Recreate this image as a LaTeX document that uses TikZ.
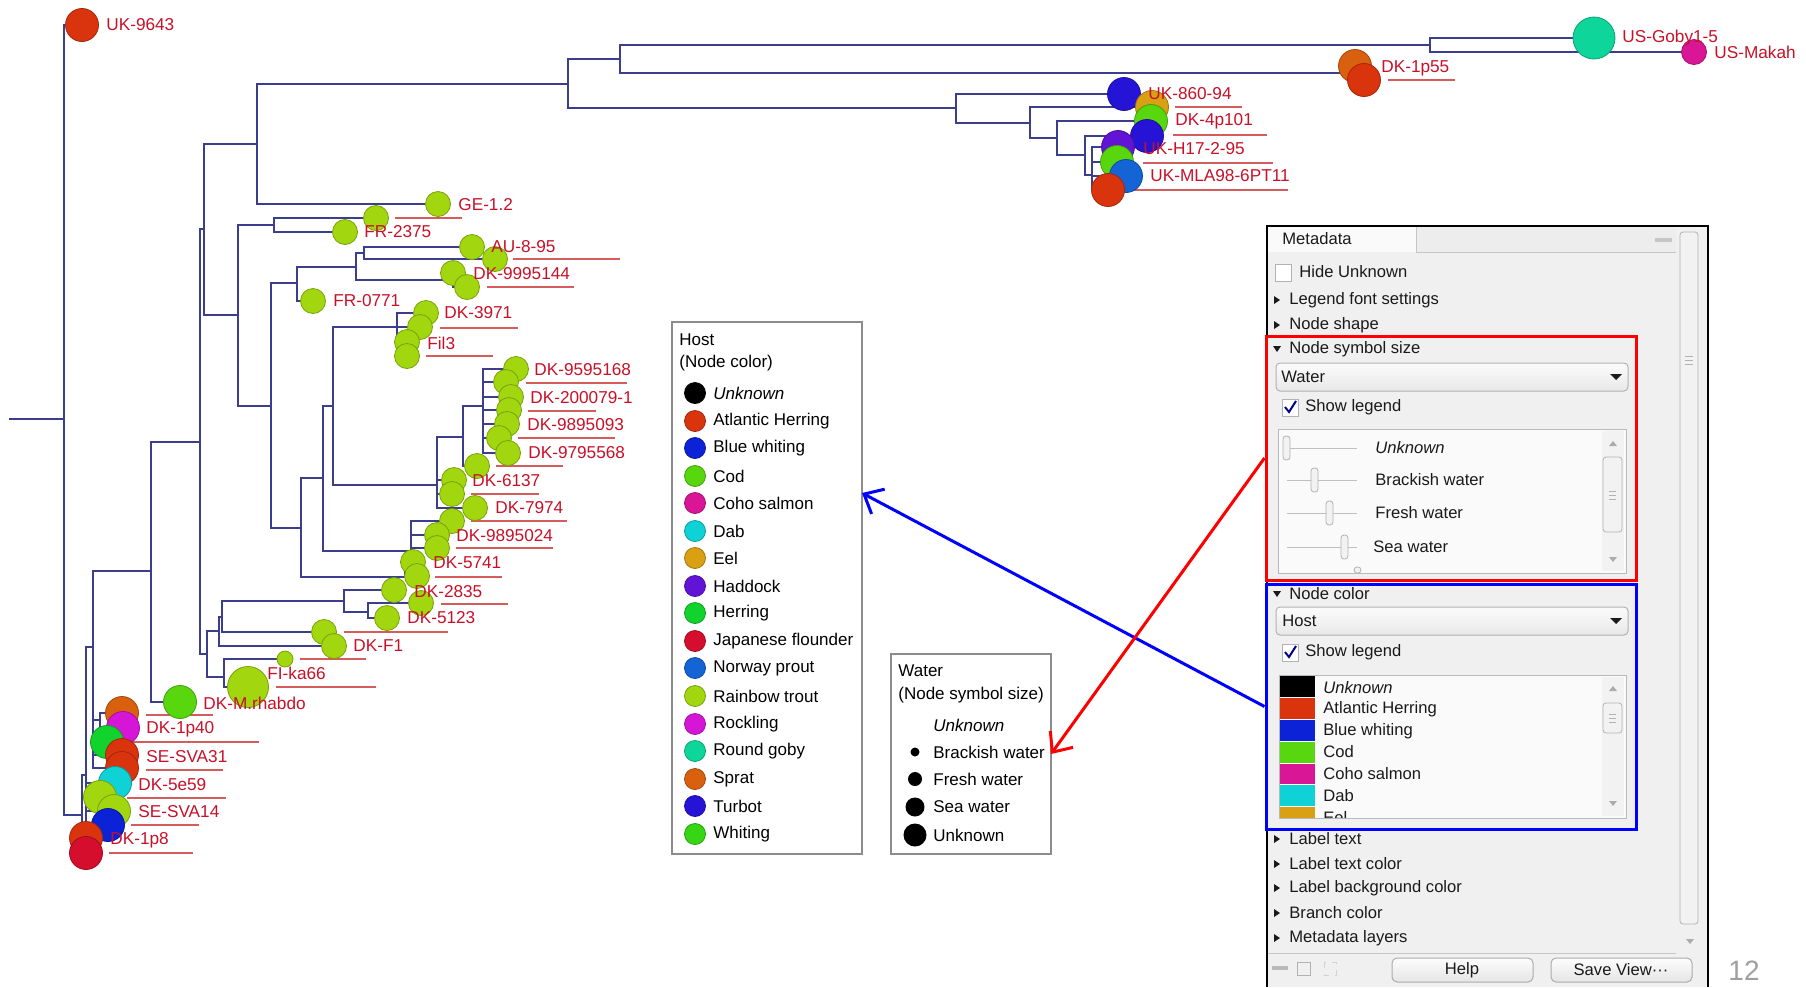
\documentclass[tikz,border=0pt]{standalone}
\usepackage{fontspec}
\setmainfont{Liberation Sans}
\usepackage{tikz}
\usetikzlibrary{calc}
\usetikzlibrary{shapes}
\usetikzlibrary{arrows.meta}

\definecolor{branch}{RGB}{58,62,140}
\definecolor{labred}{RGB}{200,16,40}
\definecolor{ulred}{RGB}{214,92,92}
\definecolor{cUnknown}{RGB}{0,0,0}
\definecolor{cAtlHer}{RGB}{217,52,14}
\definecolor{cBlueWh}{RGB}{12,34,214}
\definecolor{cCod}{RGB}{88,214,14}
\definecolor{cCoho}{RGB}{216,22,150}
\definecolor{cDab}{RGB}{14,210,214}
\definecolor{cEel}{RGB}{216,160,18}
\definecolor{cHaddock}{RGB}{98,20,214}
\definecolor{cHerring}{RGB}{18,210,46}
\definecolor{cJapFl}{RGB}{214,14,46}
\definecolor{cNorway}{RGB}{20,100,214}
\definecolor{cTrout}{RGB}{162,214,14}
\definecolor{cRockling}{RGB}{214,22,214}
\definecolor{cGoby}{RGB}{14,214,154}
\definecolor{cSprat}{RGB}{216,96,14}
\definecolor{cTurbot}{RGB}{38,20,214}
\definecolor{cWhiting}{RGB}{54,214,20}
\definecolor{panelgray}{RGB}{240,240,240}
\definecolor{paneltxt}{RGB}{26,26,26}

\tikzset{
  br/.style={draw=branch,line width=0.8pt},
  leaf/.style={circle,inner sep=0pt,line width=0.4pt},
  host/.style={leaf,fill=#1,draw=#1!75!black},
  fresh/.style={minimum size=12.5pt},
  sea/.style={minimum size=16.5pt},
  brackish/.style={minimum size=8pt},
  unkwater/.style={minimum size=20.5pt},
  tiplabel/.style={anchor=west,inner sep=0pt,text=labred,font=\fontsize{8.6}{10}\selectfont},
  uline/.style={draw=ulred,line width=1pt},
  legbox/.style={draw=gray!90,line width=1pt,inner sep=0pt},
  legtext/.style={anchor=west,inner sep=0pt,font=\fontsize{8.5}{10}\selectfont},
  legdot/.style={circle,inner sep=0pt,fill=#1,draw=#1!75!black,line width=0.4pt,minimum size=10.5pt},
  sizedot/.style={circle,inner sep=0pt,fill=black,minimum size=#1},
  paneltext/.style={anchor=west,inner sep=0pt,text=paneltxt,font=\fontsize{8.3}{10}\selectfont},
  hibox/.style={line width=1.5pt,inner sep=0pt,minimum width=185pt},
  pointer/.style={line width=1.5pt,-{Straight Barb[length=8pt,width=14pt]}},
  combo/.style={draw=gray!60,top color=gray!3,bottom color=gray!18,rounded corners=2pt,line width=0.5pt},
  tickbox/.style={draw=gray!60,fill=white,line width=0.5pt},
  thumb/.style={draw=gray!60,fill=gray!10,rounded corners=1.5pt,line width=0.4pt},
  button/.style={draw=gray!65,top color=gray!2,bottom color=gray!20,rounded corners=2.5pt,line width=0.5pt},
}

\begin{document}
\begin{tikzpicture}[x=0.5pt,y=-0.5pt]
        \useasboundingbox (0,0) rectangle (1806,987);

        %inner nodes of the tree
        \coordinate (root) at (9,419);
        \coordinate (n64) at (64,419);
        \coordinate (n82) at (82,815);
        \coordinate (n86) at (86,775);
        \coordinate (n93) at (93,647);
        \coordinate (n100) at (100,720);
        \coordinate (n151) at (151,571);
        \coordinate (n200) at (200,442);
        \coordinate (n204) at (204,229);
        \coordinate (n257) at (257,144);
        \coordinate (n568) at (568,84);
        \coordinate (n620) at (620,59);
        \coordinate (n1430) at (1430,45);
        \coordinate (n1355) at (1350,73);
        \coordinate (n956) at (956,108);
        \coordinate (n1030) at (1030,123);
        \coordinate (n1057) at (1057,138);
        \coordinate (n1085) at (1085,155);
        \coordinate (n1092) at (1092,175);
        \coordinate (n238) at (238,315);
        \coordinate (n274) at (274,225);
        \coordinate (n271) at (271,406);
        \coordinate (n297) at (297,283);
        \coordinate (n356) at (356,267);
        \coordinate (n364) at (364,253);
        \coordinate (n453) at (453,280);
        \coordinate (n301) at (301,528);
        \coordinate (n323) at (323,478);
        \coordinate (n333) at (333,406);
        \coordinate (n397) at (397,327);
        \coordinate (n437) at (437,485);
        \coordinate (n463) at (463,437);
        \coordinate (n483) at (483,406);
        \coordinate (n411) at (411,551);
        \coordinate (n405) at (405,577);
        \coordinate (n207) at (207,654);
        \coordinate (n219) at (219,631);
        \coordinate (n222) at (222,617);
        \coordinate (n344) at (344,601);
        \coordinate (n368) at (368,612);
        \coordinate (n224) at (224,677);

        %tips
        \coordinate (uk9643) at (82,25);
        \coordinate (goby) at (1594,38);
        \coordinate (makah) at (1694,52);
        \coordinate (dk1p55a) at (1355,66);
        \coordinate (dk1p55b) at (1364,80);
        \coordinate (uk860) at (1124,94);
        \coordinate (eel1) at (1152,107);
        \coordinate (dk4p101) at (1151,121);
        \coordinate (turb2) at (1147,136);
        \coordinate (had1) at (1118,147);
        \coordinate (cod2) at (1117,162);
        \coordinate (nor1) at (1126,176);
        \coordinate (ah3) at (1108,190);
        \coordinate (ge12) at (438,204);
        \coordinate (t218) at (376,218);
        \coordinate (fr2375) at (345,232);
        \coordinate (au895) at (472,247);
        \coordinate (t259) at (495,259);
        \coordinate (t273) at (453,273);
        \coordinate (t287) at (467,287);
        \coordinate (fr0771) at (313,301);
        \coordinate (dk3971) at (426,313);
        \coordinate (t327) at (420,327);
        \coordinate (fil3a) at (407,342);
        \coordinate (fil3b) at (407,356);
        \coordinate (t369) at (516,369);
        \coordinate (t382) at (506,382);
        \coordinate (t397) at (511,397);
        \coordinate (t410) at (509,410);
        \coordinate (t424) at (507,424);
        \coordinate (t438) at (499,438);
        \coordinate (t453) at (508,453);
        \coordinate (t466) at (477,466);
        \coordinate (t480) at (454,480);
        \coordinate (t494) at (452,494);
        \coordinate (t508) at (475,508);
        \coordinate (t521) at (452,521);
        \coordinate (t535) at (437,535);
        \coordinate (t548) at (437,548);
        \coordinate (t562) at (413,562);
        \coordinate (t576) at (417,576);
        \coordinate (t590) at (394,590);
        \coordinate (t603) at (421,603);
        \coordinate (t618) at (387,618);
        \coordinate (t632) at (324,632);
        \coordinate (t646) at (334,646);
        \coordinate (ka66) at (285,659);
        \coordinate (big687) at (248,687);
        \coordinate (rhabdo) at (180,702);
        \coordinate (sprat) at (122,713);
        \coordinate (rock) at (123,728);
        \coordinate (herr) at (107,742);
        \coordinate (ah755) at (122,755);
        \coordinate (ah768) at (122,768);
        \coordinate (dab) at (115,783);
        \coordinate (tr797) at (100,797);
        \coordinate (tr811) at (114,811);
        \coordinate (bw825) at (108,825);
        \coordinate (ah838) at (86,838);
        \coordinate (jf853) at (86,853);

        %branches
        \draw[br] (root) -- (n64);
        \draw[br] (n64) |- (uk9643) (n64) |- (n82);
        \draw[br] (n82) |- (n86) (n82) |- (ah838) (n82) |- (jf853);
        \draw[br] (n86) |- (n93) (n86) |- (dab) (n86) |- (tr797) (n86) |- (tr811) (n86) |- (bw825);
        \draw[br] (n93) |- (n151) (n93) |- (n100) (n93) |- (herr) (n93) |- (ah755) (n93) |- (ah768);
        \draw[br] (n100) |- (sprat) (n100) |- (rock);
        \draw[br] (n151) |- (n200) (n151) |- (rhabdo);
        \draw[br] (n200) |- (n204) (n200) |- (n207);
        \draw[br] (n204) |- (n257) (n204) |- (n238);
        \draw[br] (n257) |- (n568) (n257) |- (ge12);
        \draw[br] (n568) |- (n620) (n568) |- (n956);
        \draw[br] (n620) |- (n1430) (n620) |- (n1355);
        \draw[br] (n1430) |- (goby) (n1430) |- (makah);
        \draw[br] (n956) |- (uk860) (n956) |- (n1030);
        \draw[br] (n1030) |- (eel1) (n1030) |- (n1057);
        \draw[br] (n1057) |- (dk4p101) (n1057) |- (n1085);
        \draw[br] (n1085) |- (turb2) (n1085) |- (n1092);
        \draw[br] (n1092) |- (had1) (n1092) |- (cod2) (n1092) |- (nor1) (n1092) |- (ah3);
        \draw[br] (n238) |- (n274) (n238) |- (n271);
        \draw[br] (n274) |- (t218) (n274) |- (fr2375);
        \draw[br] (n271) |- (n297) (n271) |- (n301);
        \draw[br] (n297) |- (n356) (n297) |- (fr0771);
        \draw[br] (n356) |- (n364) (n356) |- (n453);
        \draw[br] (n364) |- (au895) (n364) |- (t259);
        \draw[br] (n453) |- (t273) (n453) |- (t287);
        \draw[br] (n301) |- (n323) (n301) |- (n405);
        \draw[br] (n323) |- (n333) (n323) |- (n411);
        \draw[br] (n333) |- (n397) (n333) |- (n437);
        \draw[br] (n397) |- (dk3971) (n397) |- (t327) (n397) |- (fil3a) (n397) |- (fil3b);
        \draw[br] (n437) |- (n463) (n437) |- (t480) (n437) |- (t494) (n437) |- (t508);
        \draw[br] (n463) |- (n483) (n463) |- (t466);
        \draw[br] (n483) |- (t369) (n483) |- (t382) (n483) |- (t397) (n483) |- (t410) (n483) |- (t424) (n483) |- (t438) (n483) |- (t453);
        \draw[br] (n411) |- (t521) (n411) |- (t535) (n411) |- (t548);
        \draw[br] (n405) |- (t562) (n405) |- (t576);
        \draw[br] (n207) |- (n219) (n207) |- (n224);
        \draw[br] (n219) |- (n222) (n219) |- (t646);
        \draw[br] (n222) |- (n344) (n222) |- (t632);
        \draw[br] (n344) |- (t590) (n344) |- (n368);
        \draw[br] (n368) |- (t603) (n368) |- (t618);
        \draw[br] (n224) |- (ka66) (n224) |- (big687);

        %label underlines
        \draw[uline] (1388,80) -- (1455,80);
        \draw[uline] (1175,107) -- (1242,107);
        \draw[uline] (1173,135) -- (1267,135);
        \draw[uline] (1143,163) -- (1273,163);
        \draw[uline] (1134,190) -- (1288,190);
        \draw[uline] (395,218) -- (462,218);
        \draw[uline] (513,259) -- (620,259);
        \draw[uline] (487,287) -- (574,287);
        \draw[uline] (440,328) -- (518,328);
        \draw[uline] (426,356) -- (493,356);
        \draw[uline] (526,383) -- (627,383);
        \draw[uline] (528,411) -- (596,411);
        \draw[uline] (518,438) -- (615,438);
        \draw[uline] (496,466) -- (563,466);
        \draw[uline] (471,494) -- (539,494);
        \draw[uline] (471,521) -- (567,521);
        \draw[uline] (456,548) -- (553,548);
        \draw[uline] (435,577) -- (502,577);
        \draw[uline] (441,604) -- (508,604);
        \draw[uline] (344,632) -- (448,632);
        \draw[uline] (300,659) -- (366,659);
        \draw[uline] (276,687) -- (376,687);
        \draw[uline] (146,715) -- (213,715);
        \draw[uline] (133,742) -- (259,742);
        \draw[uline] (146,770) -- (223,770);
        \draw[uline] (127,798) -- (226,798);
        \draw[uline] (131,825) -- (199,825);
        \draw[uline] (109,853) -- (193,853);

        %leaf symbols
        \node[host=cAtlHer,sea] (c-uk9643) at (uk9643) {};
        \node[host=cGoby,minimum size=21pt] (c-goby) at (goby) {};
        \node[host=cCoho,fresh] (c-makah) at (makah) {};
        \node[host=cSprat,sea] (c-dk1p55a) at (dk1p55a) {};
        \node[host=cAtlHer,sea] (c-dk1p55b) at (dk1p55b) {};
        \node[host=cTurbot,sea] (c-uk860) at (uk860) {};
        \node[host=cEel,sea] (c-eel1) at (eel1) {};
        \node[host=cCod,sea] (c-dk4p101) at (dk4p101) {};
        \node[host=cTurbot,sea] (c-turb2) at (turb2) {};
        \node[host=cHaddock,sea] (c-had1) at (had1) {};
        \node[host=cCod,sea] (c-cod2) at (cod2) {};
        \node[host=cNorway,sea] (c-nor1) at (nor1) {};
        \node[host=cAtlHer,sea] (c-ah3) at (ah3) {};
        \node[host=cTrout,fresh] (c-ge12) at (ge12) {};
        \node[host=cTrout,fresh] (c-t218) at (t218) {};
        \node[host=cTrout,fresh] (c-fr2375) at (fr2375) {};
        \node[host=cTrout,fresh] (c-au895) at (au895) {};
        \node[host=cTrout,fresh] (c-t259) at (t259) {};
        \node[host=cTrout,fresh] (c-t273) at (t273) {};
        \node[host=cTrout,fresh] (c-t287) at (t287) {};
        \node[host=cTrout,fresh] (c-fr0771) at (fr0771) {};
        \node[host=cTrout,fresh] (c-dk3971) at (dk3971) {};
        \node[host=cTrout,fresh] (c-t327) at (t327) {};
        \node[host=cTrout,fresh] (c-fil3a) at (fil3a) {};
        \node[host=cTrout,fresh] (c-fil3b) at (fil3b) {};
        \node[host=cTrout,fresh] (c-t369) at (t369) {};
        \node[host=cTrout,fresh] (c-t382) at (t382) {};
        \node[host=cTrout,fresh] (c-t397) at (t397) {};
        \node[host=cTrout,fresh] (c-t410) at (t410) {};
        \node[host=cTrout,fresh] (c-t424) at (t424) {};
        \node[host=cTrout,fresh] (c-t438) at (t438) {};
        \node[host=cTrout,fresh] (c-t453) at (t453) {};
        \node[host=cTrout,fresh] (c-t466) at (t466) {};
        \node[host=cTrout,fresh] (c-t480) at (t480) {};
        \node[host=cTrout,fresh] (c-t494) at (t494) {};
        \node[host=cTrout,fresh] (c-t508) at (t508) {};
        \node[host=cTrout,fresh] (c-t521) at (t521) {};
        \node[host=cTrout,fresh] (c-t535) at (t535) {};
        \node[host=cTrout,fresh] (c-t548) at (t548) {};
        \node[host=cTrout,fresh] (c-t562) at (t562) {};
        \node[host=cTrout,fresh] (c-t576) at (t576) {};
        \node[host=cTrout,fresh] (c-t590) at (t590) {};
        \node[host=cTrout,fresh] (c-t603) at (t603) {};
        \node[host=cTrout,fresh] (c-t618) at (t618) {};
        \node[host=cTrout,fresh] (c-t632) at (t632) {};
        \node[host=cTrout,fresh] (c-t646) at (t646) {};
        \node[host=cTrout,brackish] (c-ka66) at (ka66) {};
        \node[host=cTrout,unkwater] (c-big687) at (big687) {};
        \node[host=cCod,sea] (c-rhabdo) at (rhabdo) {};
        \node[host=cSprat,sea] (c-sprat) at (sprat) {};
        \node[host=cRockling,sea] (c-rock) at (rock) {};
        \node[host=cHerring,sea] (c-herr) at (herr) {};
        \node[host=cAtlHer,sea] (c-ah755) at (ah755) {};
        \node[host=cAtlHer,sea] (c-ah768) at (ah768) {};
        \node[host=cDab,sea] (c-dab) at (dab) {};
        \node[host=cTrout,sea] (c-tr797) at (tr797) {};
        \node[host=cTrout,sea] (c-tr811) at (tr811) {};
        \node[host=cBlueWh,sea] (c-bw825) at (bw825) {};
        \node[host=cAtlHer,sea] (c-ah838) at (ah838) {};
        \node[host=cJapFl,sea] (c-jf853) at (jf853) {};

        %tip labels
        \node[tiplabel] (l-uk9643) at (106,25) {UK-9643};
        \node[tiplabel] (l-goby) at (1622,38) {US-Goby1-5};
        \node[tiplabel] (l-makah) at (1714,52) {US-Makah};
        \node[tiplabel] (l-dk1p55) at (1381,68) {DK-1p55};
        \node[tiplabel] (l-uk860) at (1148,94) {UK-860-94};
        \node[tiplabel] (l-dk4p101) at (1175,121) {DK-4p101};
        \node[tiplabel] (l-ukh17) at (1143,149) {UK-H17-2-95};
        \node[tiplabel] (l-ukmla) at (1150,176) {UK-MLA98-6PT11};
        \node[tiplabel] (l-ge12) at (458,205) {GE-1.2};
        \node[tiplabel] (l-fr2375) at (364,232) {FR-2375};
        \node[tiplabel] (l-au895) at (491,247) {AU-8-95};
        \node[tiplabel] (l-dk9995144) at (473,274) {DK-9995144};
        \node[tiplabel] (l-fr0771) at (333,301) {FR-0771};
        \node[tiplabel] (l-dk3971) at (444,313) {DK-3971};
        \node[tiplabel] (l-fil3) at (427,343) {Fil3};
        \node[tiplabel] (l-dk9595168) at (534,370) {DK-9595168};
        \node[tiplabel] (l-dk200079) at (530,398) {DK-200079-1};
        \node[tiplabel] (l-dk9895093) at (527,425) {DK-9895093};
        \node[tiplabel] (l-dk9795568) at (528,453) {DK-9795568};
        \node[tiplabel] (l-dk6137) at (472,481) {DK-6137};
        \node[tiplabel] (l-dk7974) at (495,508) {DK-7974};
        \node[tiplabel] (l-dk9895024) at (456,536) {DK-9895024};
        \node[tiplabel] (l-dk5741) at (433,563) {DK-5741};
        \node[tiplabel] (l-dk2835) at (414,592) {DK-2835};
        \node[tiplabel] (l-dk5123) at (407,618) {DK-5123};
        \node[tiplabel] (l-dkf1) at (353,646) {DK-F1};
        \node[tiplabel] (l-fika66) at (267,673) {FI-ka66};
        \node[tiplabel] (l-rhabdo) at (203,703) {DK-M.rhabdo};
        \node[tiplabel] (l-dk1p40) at (146,729) {DK-1p40};
        \node[tiplabel] (l-sesva31) at (146,757) {SE-SVA31};
        \node[tiplabel] (l-dk5e59) at (138,785) {DK-5e59};
        \node[tiplabel] (l-sesva14) at (138,812) {SE-SVA14};
        \node[tiplabel] (l-dk1p8) at (110,840) {DK-1p8};

        %host legend
        \node[legbox,minimum width=95pt,minimum height=266pt] (hostbox) at (767,588) {};
        \node[legtext] (h-title) at (679,340) {Host};
        \node[legtext] (h-sub) at (679,363) {(Node color)};
        \node[legdot=cUnknown] (hd1) at (695,393) {};
        \node[legdot=cAtlHer] (hd2) at (695,421) {};
        \node[legdot=cBlueWh] (hd3) at (695,448) {};
        \node[legdot=cCod] (hd4) at (695,476) {};
        \node[legdot=cCoho] (hd5) at (695,503) {};
        \node[legdot=cDab] (hd6) at (695,531) {};
        \node[legdot=cEel] (hd7) at (695,558) {};
        \node[legdot=cHaddock] (hd8) at (695,586) {};
        \node[legdot=cHerring] (hd9) at (695,613) {};
        \node[legdot=cJapFl] (hd10) at (695,641) {};
        \node[legdot=cNorway] (hd11) at (695,668) {};
        \node[legdot=cTrout] (hd12) at (695,696) {};
        \node[legdot=cRockling] (hd13) at (695,724) {};
        \node[legdot=cGoby] (hd14) at (695,751) {};
        \node[legdot=cSprat] (hd15) at (695,779) {};
        \node[legdot=cTurbot] (hd16) at (695,806) {};
        \node[legdot=cWhiting] (hd17) at (695,834) {};
        \node[legtext] (ht1) at (713,393) {\itshape Unknown};
        \node[legtext] (ht2) at (713,421) {Atlantic Herring};
        \node[legtext] (ht3) at (713,448) {Blue whiting};
        \node[legtext] (ht4) at (713,476) {Cod};
        \node[legtext] (ht5) at (713,503) {Coho salmon};
        \node[legtext] (ht6) at (713,531) {Dab};
        \node[legtext] (ht7) at (713,558) {Eel};
        \node[legtext] (ht8) at (713,586) {Haddock};
        \node[legtext] (ht9) at (713,613) {Herring};
        \node[legtext] (ht10) at (713,641) {Japanese flounder};
        \node[legtext] (ht11) at (713,668) {Norway prout};
        \node[legtext] (ht12) at (713,696) {Rainbow trout};
        \node[legtext] (ht13) at (713,724) {Rockling};
        \node[legtext] (ht14) at (713,751) {Round goby};
        \node[legtext] (ht15) at (713,779) {Sprat};
        \node[legtext] (ht16) at (713,806) {Turbot};
        \node[legtext] (ht17) at (713,834) {Whiting};

        %water legend
        \node[legbox,minimum width=80pt,minimum height=100pt] (waterbox) at (971,754) {};
        \node[legtext] (w-title) at (898,671) {Water};
        \node[legtext] (w-sub) at (898,695) {(Node symbol size)};
        \node[legtext] (wt1) at (933,725) {\itshape Unknown};
        \node[sizedot=4.5pt] (wd2) at (915,752) {};
        \node[sizedot=7pt] (wd3) at (915,779) {};
        \node[sizedot=9.5pt] (wd4) at (915,807) {};
        \node[sizedot=11.5pt] (wd5) at (915,835) {};
        \node[legtext] (wt2) at (933,752) {Brackish water};
        \node[legtext] (wt3) at (933,779) {Fresh water};
        \node[legtext] (wt4) at (933,807) {Sea water};
        \node[legtext] (wt5) at (933,835) {Unknown};

        %metadata panel
        \fill[panelgray] (1267,226) rectangle (1708,987);
        \fill[gray!14] (1416,227) rectangle (1676,252);
        \fill[gray!4] (1268,227) rectangle (1416,252);
        \draw[gray!45] (1416,227) -- (1416,252) -- (1676,252);
        \fill[gray!45] (1655,238) rectangle (1672,242);
        \node[paneltext] (p-tab) at (1282,239) {Metadata};
        \fill[gray!12] (1676,227) rectangle (1704,952);
        \draw[thumb] (1680,232) rectangle (1698,924);
        \draw[gray!60] (1685,356) -- (1693,356) (1685,360) -- (1693,360) (1685,364) -- (1693,364);
        \fill[gray!65] (1686,939) -- (1694,939) -- (1690,944) -- cycle;
        \draw[black,line width=1.2pt] (1267,987) -- (1267,226) -- (1708,226) -- (1708,987);

        %panel rows
        \draw[tickbox] (1275,264) rectangle (1291,281);
        \node[paneltext] (p-hide) at (1299,272) {Hide Unknown};
        \fill[paneltxt] (1274,296) -- (1280,300) -- (1274,304) -- cycle;
        \node[paneltext] (p-font) at (1289,300) {Legend font settings};
        \fill[paneltxt] (1274,321) -- (1280,325) -- (1274,329) -- cycle;
        \node[paneltext] (p-shape) at (1289,325) {Node shape};
        \fill[paneltxt] (1273,346) -- (1281,346) -- (1277,352) -- cycle;
        \node[paneltext] (p-size) at (1289,349) {Node symbol size};
        \draw[combo] (1276,363) rectangle (1628,391);
        \node[paneltext] (p-water) at (1281,377) {Water};
        \fill[paneltxt] (1610,374) -- (1622,374) -- (1616,380) -- cycle;
        \draw[tickbox] (1282,399) rectangle (1298,416);
        \draw[blue!55!black,line width=1pt] (1285,407) -- (1289,412) -- (1296,401);
        \node[paneltext] (p-show1) at (1305,407) {Show legend};

        %size list
        \draw[gray!55,fill=gray!4] (1278,429) rectangle (1626,573);
        \fill[gray!10] (1602,431) rectangle (1624,571);
        \fill[gray!65] (1609,446) -- (1617,446) -- (1613,441) -- cycle;
        \draw[thumb] (1603,457) rectangle (1622,532);
        \draw[gray!60] (1609,491) -- (1616,491) (1609,495) -- (1616,495) (1609,499) -- (1616,499);
        \fill[gray!65] (1609,557) -- (1617,557) -- (1613,562) -- cycle;
        \draw[gray!50] (1287,448) -- (1357,448) (1287,480) -- (1357,480) (1287,513) -- (1357,513) (1287,547) -- (1357,547);
        \draw[thumb] (1283,436) rectangle (1290,460);
        \draw[thumb] (1311,468) rectangle (1318,492);
        \draw[thumb] (1326,501) rectangle (1333,525);
        \draw[thumb] (1341,535) rectangle (1348,559);
        \draw[thumb] (1354,567) rectangle (1361,573);
        \node[paneltext] (p-s1) at (1375,448) {\itshape Unknown};
        \node[paneltext] (p-s2) at (1375,480) {Brackish water};
        \node[paneltext] (p-s3) at (1375,513) {Fresh water};
        \node[paneltext] (p-s4) at (1373,547) {Sea water};

        %color section
        \fill[paneltxt] (1273,591) -- (1281,591) -- (1277,597) -- cycle;
        \node[paneltext] (p-color) at (1289,594) {Node color};
        \draw[combo] (1276,607) rectangle (1628,635);
        \node[paneltext] (p-host) at (1282,621) {Host};
        \fill[paneltxt] (1610,618) -- (1622,618) -- (1616,624) -- cycle;
        \draw[tickbox] (1282,644) rectangle (1298,661);
        \draw[blue!55!black,line width=1pt] (1285,652) -- (1289,657) -- (1296,646);
        \node[paneltext] (p-show2) at (1305,652) {Show legend};

        %color list
        \draw[gray!55,fill=gray!4] (1279,675) rectangle (1626,818);
        \begin{scope}
        \clip (1280,676) rectangle (1600,817);
        \fill[cUnknown] (1280,676) rectangle (1315,697);
        \fill[cAtlHer] (1280,698) rectangle (1315,719);
        \fill[cBlueWh] (1280,720) rectangle (1315,741);
        \fill[cCod] (1280,742) rectangle (1315,763);
        \fill[cCoho] (1280,764) rectangle (1315,784);
        \fill[cDab] (1280,785) rectangle (1315,806);
        \fill[cEel] (1280,807) rectangle (1315,828);
        \node[paneltext] (p-c1) at (1323,688) {\itshape Unknown};
        \node[paneltext] (p-c2) at (1323,709) {Atlantic Herring};
        \node[paneltext] (p-c3) at (1323,731) {Blue whiting};
        \node[paneltext] (p-c4) at (1323,752) {Cod};
        \node[paneltext] (p-c5) at (1323,774) {Coho salmon};
        \node[paneltext] (p-c6) at (1323,796) {Dab};
        \node[paneltext] (p-c7) at (1323,818) {Eel};
        \end{scope}
        \fill[gray!10] (1602,677) rectangle (1624,816);
        \fill[gray!65] (1609,691) -- (1617,691) -- (1613,686) -- cycle;
        \draw[thumb] (1603,703) rectangle (1622,733);
        \draw[gray!60] (1609,714) -- (1616,714) (1609,718) -- (1616,718) (1609,722) -- (1616,722);
        \fill[gray!65] (1609,801) -- (1617,801) -- (1613,806) -- cycle;

        %collapsed rows
        \fill[paneltxt] (1274,835) -- (1280,839) -- (1274,843) -- cycle;
        \node[paneltext] (p-lt) at (1289,839) {Label text};
        \fill[paneltxt] (1274,860) -- (1280,864) -- (1274,868) -- cycle;
        \node[paneltext] (p-ltc) at (1289,864) {Label text color};
        \fill[paneltxt] (1274,884) -- (1280,888) -- (1274,892) -- cycle;
        \node[paneltext] (p-lbc) at (1289,888) {Label background color};
        \fill[paneltxt] (1274,909) -- (1280,913) -- (1274,917) -- cycle;
        \node[paneltext] (p-bc) at (1289,913) {Branch color};
        \fill[paneltxt] (1274,934) -- (1280,938) -- (1274,942) -- cycle;
        \node[paneltext] (p-ml) at (1289,938) {Metadata layers};

        %bottom bar
        \draw[gray!45] (1268,953) -- (1676,953);
        \fill[gray!55] (1272,966) rectangle (1288,970);
        \draw[gray!60] (1297,962) rectangle (1310,975);
        \draw[gray!35,dashed] (1324,962) rectangle (1336,975);
        \draw[button] (1392,958) rectangle (1533,982);
        \node[paneltext,anchor=center] (p-help) at (1462,970) {Help};
        \draw[button] (1551,958) rectangle (1692,982);
        \node[paneltext,anchor=center] (p-save) at (1621,970) {Save View···};

        %highlight boxes and arrows
        \node[hibox,draw=red,minimum height=122pt] (symbox) at (1451,458) {};
        \node[hibox,draw=blue,minimum height=122.5pt] (colorbox) at (1451,706.5) {};
        \coordinate (hostin) at (862,493);
        \coordinate (waterin) at (1051,754);
        \draw[pointer,blue] (colorbox.west) -- (hostin);
        \draw[pointer,red] (symbox.west) -- (waterin);

        %page number
        \node[text=gray!75,font=\fontsize{14}{16}\selectfont] (pageno) at (1744,971) {12};
\end{tikzpicture}
\end{document}
